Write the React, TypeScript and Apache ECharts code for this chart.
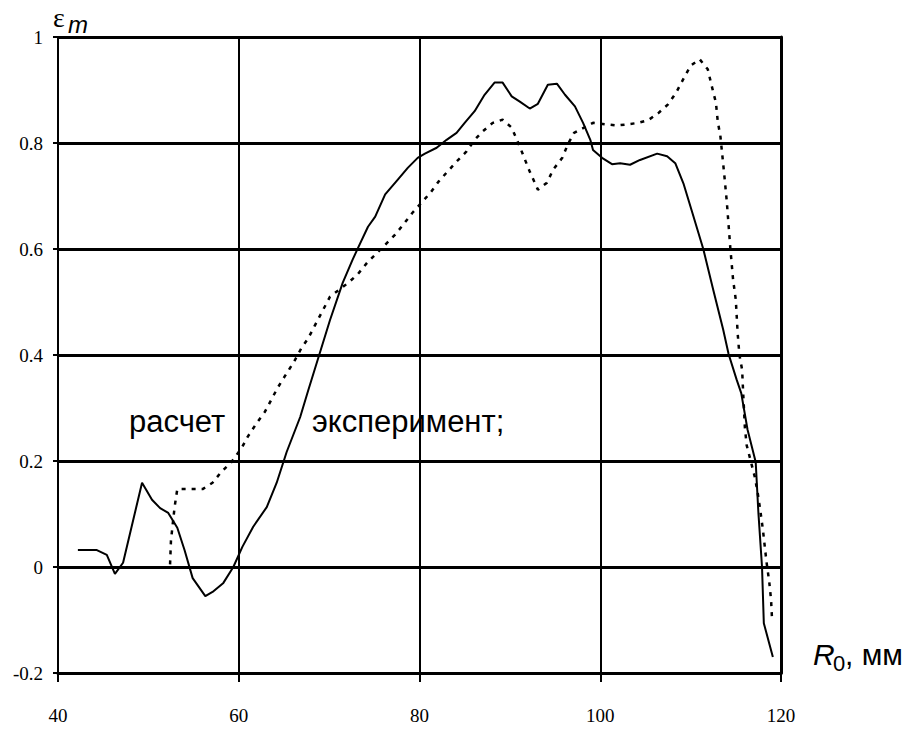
import React, { useEffect, useRef } from "react";
import * as echarts from "echarts";

// экспериментальная кривая (сплошная)
const expX = [42.2, 44.3, 45.4, 46.3, 47.2, 49.3, 50.4, 51.3, 52.2, 53.2, 54.0, 54.9, 56.3, 57.1, 58.3, 59.4, 60.4, 61.6, 63.1, 64.2, 65.3, 66.8, 67.7, 68.9, 70.1, 71.5, 72.6, 73.2, 74.3, 75.1, 76.2, 77.6, 78.7, 79.8, 80.6, 81.9, 83.0, 84.1, 85.0, 86.1, 87.2, 88.3, 89.2, 90.2, 91.1, 92.2, 93.1, 94.2, 95.2, 96.1, 97.2, 98.1, 98.9, 99.2, 100.2, 101.3, 102.2, 103.3, 104.4, 106.3, 107.4, 108.3, 109.2, 110.2, 111.4, 112.5, 113.6, 114.2, 115.1, 115.6, 116.3, 117.2, 117.5, 117.9, 118.1, 119.1];
const expY = [0.032, 0.032, 0.023, -0.013, 0.008, 0.159, 0.127, 0.111, 0.102, 0.074, 0.032, -0.021, -0.055, -0.047, -0.030, 0.0, 0.038, 0.076, 0.113, 0.159, 0.217, 0.283, 0.334, 0.4, 0.466, 0.536, 0.58, 0.602, 0.642, 0.661, 0.703, 0.731, 0.753, 0.772, 0.78, 0.791, 0.806, 0.819, 0.838, 0.86, 0.891, 0.914, 0.914, 0.888, 0.878, 0.865, 0.874, 0.91, 0.912, 0.891, 0.869, 0.838, 0.806, 0.787, 0.772, 0.76, 0.762, 0.759, 0.768, 0.78, 0.775, 0.762, 0.724, 0.668, 0.6, 0.523, 0.448, 0.402, 0.353, 0.328, 0.259, 0.198, 0.102, 0.0, -0.106, -0.17];

// расчетная кривая (пунктир)
const calcX = [52.4, 52.5, 52.9, 53.2, 56.0, 57.1, 58.1, 59.2, 60.4, 61.0, 62.0, 62.9, 64.3, 65.1, 66.1, 66.9, 67.7, 68.4, 69.2, 70.1, 72.1, 73.2, 74.2, 75.2, 76.2, 77.3, 78.2, 79.2, 80.2, 81.2, 82.1, 83.1, 84.1, 85.2, 86.1, 87.0, 88.1, 89.2, 90.2, 91.1, 92.2, 93.1, 94.1, 94.8, 95.8, 96.4, 97.1, 99.2, 101.8, 102.9, 104.2, 105.3, 106.4, 107.5, 108.4, 109.2, 110.0, 111.0, 111.9, 112.3, 112.8, 113.0, 113.3, 113.5, 113.7, 114.0, 114.4, 114.7, 115.0, 115.2, 115.4, 115.7, 115.8, 116.0, 116.2, 117.1, 117.4, 117.7, 118.0, 118.4, 118.7, 118.9, 119.0];
const calcY = [0.005, 0.05, 0.113, 0.147, 0.147, 0.159, 0.18, 0.198, 0.227, 0.246, 0.272, 0.293, 0.338, 0.36, 0.387, 0.412, 0.432, 0.455, 0.481, 0.51, 0.536, 0.553, 0.574, 0.591, 0.608, 0.627, 0.646, 0.668, 0.687, 0.706, 0.727, 0.746, 0.765, 0.784, 0.806, 0.822, 0.838, 0.844, 0.829, 0.793, 0.746, 0.712, 0.725, 0.75, 0.772, 0.797, 0.819, 0.838, 0.833, 0.835, 0.838, 0.843, 0.856, 0.873, 0.895, 0.921, 0.946, 0.958, 0.939, 0.91, 0.876, 0.841, 0.812, 0.778, 0.744, 0.69, 0.6, 0.542, 0.504, 0.442, 0.4, 0.372, 0.334, 0.264, 0.23, 0.17, 0.142, 0.108, 0.07, 0.009, -0.028, -0.062, -0.096];

const xMin = 40;
const xMax = 120;
const xStep = 20;
const yMin = -0.2;
const yMax = 1;
const yStep = 0.2;

const labelCalc = "расчет";
const labelExp = "эксперимент;";

export default function App() {
  const ref = useRef<HTMLDivElement>(null);
  useEffect(() => {
    if (!ref.current) return;
    const chart = echarts.init(ref.current, null, { renderer: "svg" });
    const expData = expX.map((x, i) => [x, expY[i]]);
    const calcData = calcX.map((x, i) => [x, calcY[i]]);
    const serif = "Times New Roman, Liberation Serif, DejaVu Serif, serif";
    const sans = "Arial, Liberation Sans, sans-serif";
    const txt = (x: number, y: number, text: string, size: number, family: string, italic = false) => ({
      type: "text",
      x,
      y,
      style: {
        text,
        fontSize: size,
        fontFamily: family,
        fontStyle: italic ? "italic" : "normal",
        fill: "#000",
        verticalAlign: "middle",
      },
    });
    chart.setOption({
      animation: false,
      backgroundColor: "#fff",
      grid: { left: 58, right: 133, top: 37, bottom: 58 },
      xAxis: {
        type: "value",
        min: xMin,
        max: xMax,
        interval: xStep,
        axisLine: { show: true, onZero: false, lineStyle: { color: "#000", width: 3 } },
        axisTick: { show: true, length: 9, lineStyle: { color: "#000", width: 2 } },
        axisLabel: { color: "#000", fontFamily: serif, fontSize: 19, margin: 33 },
        splitLine: { show: true, lineStyle: { color: "#000", width: 2 } },
      },
      yAxis: [
        {
          type: "value",
          min: yMin,
          max: yMax,
          interval: yStep,
          axisLine: { show: true, onZero: false, lineStyle: { color: "#000", width: 2 } },
          axisTick: { show: true, length: 5, lineStyle: { color: "#000", width: 2 } },
          axisLabel: { color: "#000", fontFamily: serif, fontSize: 19, margin: 15 },
          splitLine: { show: true, lineStyle: { color: "#000", width: 3 } },
        },
        {
          type: "value",
          position: "right",
          min: yMin,
          max: yMax,
          interval: yStep,
          axisLine: { show: true, onZero: false, lineStyle: { color: "#000", width: 3 } },
          axisTick: { show: false },
          axisLabel: { show: false },
          splitLine: { show: false },
        },
      ],
      series: [
        {
          type: "line",
          data: calcData,
          symbol: "none",
          lineStyle: { color: "#000", width: 2.5, type: [4, 6] },
          z: 3,
        },
        {
          type: "line",
          data: expData,
          symbol: "none",
          lineStyle: { color: "#000", width: 2 },
          z: 4,
        },
      ],
      graphic: [
        txt(53, 17, "ε", 28, serif),
        txt(68, 24, "m", 24, sans, true),
        txt(129, 421, labelCalc, 31, sans),
        txt(312, 421, labelExp, 31, sans),
        txt(813, 654, "R", 30, sans, true),
        txt(833, 663, "0", 22, sans),
        txt(845, 654, ", мм", 30, sans),
      ],
    });
    return () => chart.dispose();
  }, []);
  return <div ref={ref} style={{ width: 914, height: 731, position: "absolute", left: 0, top: 0 }} />;
}
